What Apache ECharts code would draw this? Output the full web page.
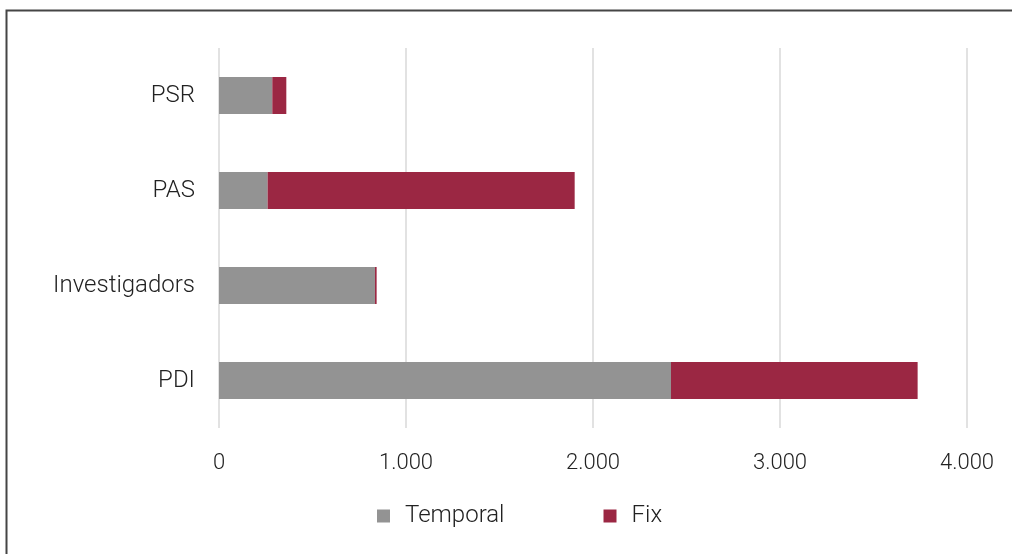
<!DOCTYPE html>
<html>
<head>
<meta charset="utf-8">
<script src="https://cdn.jsdelivr.net/npm/echarts@6/dist/echarts.min.js"></script>
<style>
  html, body { margin: 0; padding: 0; background: #fff; }
  #chart { width: 1012px; height: 554px; }
</style>
</head>
<body>
<div id="chart"></div>
<script>
var categories = ['PDI', 'Investigadors', 'PAS', 'PSR'];
var temporal = [2417, 834, 260, 285];
var fix = [1319, 9, 1642, 75];
var ticks = [0, 1000, 2000, 3000, 4000];

var chart = echarts.init(document.getElementById('chart'));
var font = 'Roboto';

function fmt(v) {
  return String(v).replace(/\B(?=(\d{3})+(?!\d))/g, '.');
}

var option = {
  animation: false,
  backgroundColor: '#fff',
  color: ['#939393', '#9b2743'],
  graphic: [{
    type: 'rect',
    shape: { x: 6.5, y: 10.5, width: 1100, height: 700 },
    style: { fill: 'none', stroke: '#454545', lineWidth: 2 },
    silent: true
  }],
  grid: { left: 219, right: 45, top: 48, bottom: 126 },
  legend: {
    data: ['Temporal', 'Fix'],
    top: 504,
    left: 377,
    padding: 0,
    icon: 'rect',
    itemWidth: 13,
    itemHeight: 13,
    itemGap: 99,
    textStyle: { fontFamily: font, fontWeight: 300, fontSize: 24, color: '#222', padding: [0, 0, 0, 10] }
  },
  xAxis: {
    type: 'value',
    min: ticks[0],
    max: ticks[ticks.length - 1],
    interval: 1000,
    axisLine: { show: false },
    axisTick: { show: false },
    splitLine: { lineStyle: { color: '#d9d9d9', width: 1.5 } },
    axisLabel: {
      margin: 24,
      fontFamily: font, fontWeight: 300, fontSize: 22, color: '#222',
      formatter: fmt
    }
  },
  yAxis: {
    type: 'category',
    data: categories,
    axisLine: { show: false },
    axisTick: { show: false },
    axisLabel: {
      margin: 24,
      fontFamily: font, fontWeight: 300, fontSize: 24, color: '#222'
    }
  },
  series: [
    {
      name: 'Temporal',
      type: 'bar',
      stack: 'total',
      barCategoryGap: '61%',
      data: temporal
    },
    {
      name: 'Fix',
      type: 'bar',
      stack: 'total',
      barCategoryGap: '61%',
      data: fix
    }
  ]
};

chart.setOption(option);
</script>
</body>
</html>
